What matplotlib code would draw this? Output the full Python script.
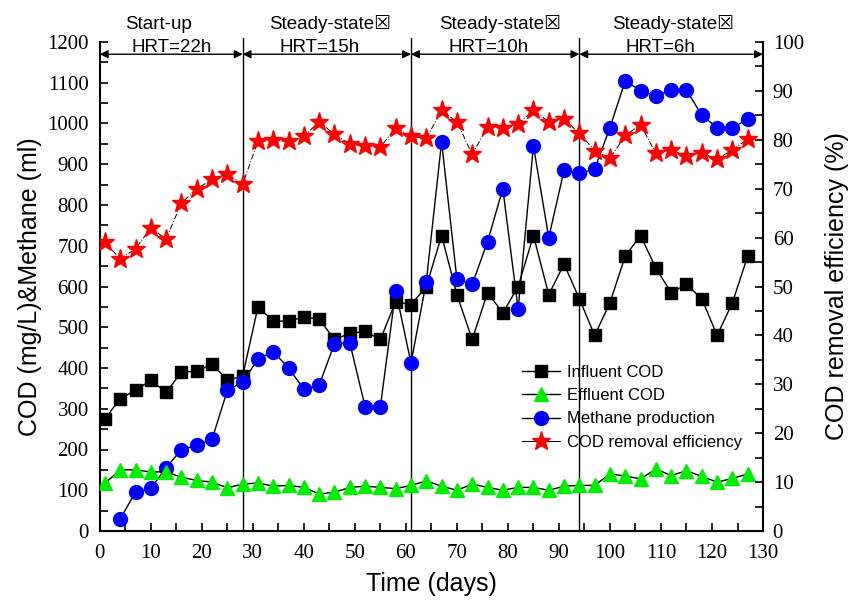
import matplotlib
matplotlib.use("Agg")
import matplotlib.pyplot as plt
from matplotlib.ticker import MultipleLocator

days = [1, 4, 7, 10, 13, 16, 19, 22, 25, 28, 31, 34, 37, 40, 43, 46, 49, 52, 55, 58,
        61, 64, 67, 70, 73, 76, 79, 82, 85, 88, 91, 94, 97, 100, 103, 106, 109, 112,
        115, 118, 121, 124, 127]

influent_cod = [275, 325, 345, 370, 340, 390, 392, 410, 370, 380, 550, 515, 515, 525,
                520, 470, 485, 490, 470, 563, 555, 600, 725, 580, 470, 585, 535, 600,
                725, 580, 655, 570, 480, 560, 675, 725, 645, 585, 605, 570, 480, 560, 675]

effluent_cod = [117, 150, 150, 145, 145, 132, 124, 120, 106, 115, 118, 110, 112, 107,
                91, 95, 107, 110, 107, 104, 112, 123, 110, 100, 115, 107, 100, 107,
                107, 100, 110, 112, 112, 140, 135, 128, 152, 136, 148, 134, 120, 129, 140]

methane_days = days[1:]
methane = [30, 95, 105, 155, 200, 210, 225, 345, 365, 422, 440, 400, 348, 358, 460,
           462, 305, 305, 590, 412, 612, 955, 618, 605, 710, 840, 545, 945, 720, 885,
           878, 888, 990, 1105, 1080, 1068, 1082, 1082, 1020, 990, 990, 1010]

removal_eff = [59.0, 55.7, 57.7, 62.0, 59.7, 67.1, 69.9, 72.0, 73.0, 70.9, 79.7, 79.9,
               79.7, 80.7, 83.7, 81.1, 79.1, 78.7, 78.5, 82.5, 80.7, 80.3, 86.0, 83.7,
               77.0, 82.7, 82.5, 83.3, 86.0, 83.7, 84.3, 81.3, 77.8, 76.2, 80.9, 83.1,
               77.2, 78.0, 76.6, 77.4, 76.0, 78.0, 80.1]

phase_bounds = [0, 28, 61, 94, 130]
phase_names = ["Start-up", "Steady-state\u2612", "Steady-state\u2612", "Steady-state\u2612"]
phase_hrt = ["HRT=22h", "HRT=15h", "HRT=10h", "HRT=6h"]
phase_name_x = [11.5, 45.1, 78.4, 112.3]
phase_hrt_x = [14.0, 43.0, 76.3, 109.9]

serif = "Liberation Serif"
sans = "Liberation Sans"

fig = plt.figure(figsize=(8.53, 6.0), dpi=100)
ax1 = fig.add_axes([0.117, 0.115, 0.7775, 0.815])
ax2 = ax1.twinx()

l1, = ax1.plot(days, influent_cod, color="black", lw=1, marker="s", ms=9,
               mfc="black", mec="black", zorder=3, label="Influent COD")
l3, = ax1.plot(methane_days, methane, color="black", lw=1, marker="o", ms=10,
               mfc="#0000ff", mec="#0000ff", zorder=4, label="Methane production")
l2, = ax1.plot(days, effluent_cod, color="black", lw=1, marker="^", ms=10,
               mfc="#00ee00", mec="#00ee00", zorder=5, label="Effluent COD")
l4, = ax2.plot(days, removal_eff, color="black", lw=0.7, ls=(0, (6, 2, 1, 2)),
               marker="*", ms=14, mfc="red", mec="red", zorder=3,
               label="COD removal efficiency")

ax1.set_xlim(0, 130)
ax1.set_ylim(0, 1200)
ax2.set_ylim(0, 100)

ax1.xaxis.set_major_locator(MultipleLocator(10))
ax1.xaxis.set_minor_locator(MultipleLocator(5))
ax1.yaxis.set_major_locator(MultipleLocator(100))
ax1.yaxis.set_minor_locator(MultipleLocator(50))
ax2.yaxis.set_major_locator(MultipleLocator(10))
ax2.yaxis.set_minor_locator(MultipleLocator(5))

for ax in (ax1, ax2):
    ax.spines["top"].set_visible(False)
    ax.tick_params(which="both", direction="in", length=6, width=1.2,
                   labelsize=15)
ax1.spines["right"].set_visible(False)
ax2.spines["left"].set_visible(False)
for sp in ("left", "bottom"):
    ax1.spines[sp].set_linewidth(1.5)
ax2.spines["right"].set_linewidth(1.5)
ax1.tick_params(axis="y", which="both", right=False, pad=8)
ax2.tick_params(axis="y", which="both", pad=7)
ax1.tick_params(axis="x", which="both", top=False, pad=9)

for lab in ax1.get_xticklabels() + ax1.get_yticklabels() + ax2.get_yticklabels():
    lab.set_fontfamily(serif)

ax1.set_xlabel("Time (days)", fontsize=18, fontfamily=sans, labelpad=7)
ax1.set_ylabel("COD (mg/L)&Methane (ml)", fontsize=18, fontfamily=sans, labelpad=4)
ax2.set_ylabel("COD removal efficiency (%)", fontsize=18, fontfamily=sans, labelpad=15)

# phase separators
for b in phase_bounds[1:-1]:
    ax1.plot([b, b], [0, 1210], color="black", lw=1, clip_on=False, zorder=2)

# arrows and header text
for i in range(4):
    ax1.annotate("", xy=(phase_bounds[i], 1170), xytext=(phase_bounds[i + 1], 1170),
                 arrowprops=dict(arrowstyle="<|-|>", color="black", lw=1,
                                 shrinkA=0, shrinkB=0, mutation_scale=12),
                 annotation_clip=False)
    ax1.text(phase_name_x[i], 1233, phase_names[i], ha="center", va="baseline",
             fontsize=13.5, family=["Liberation Sans", "DejaVu Sans"], clip_on=False)
    ax1.text(phase_hrt_x[i], 1176, phase_hrt[i], ha="center", va="baseline",
             fontsize=13.5, family=sans, clip_on=False)

leg = ax2.legend(handles=[l1, l2, l3, l4], loc="upper left",
                 bbox_to_anchor=(0.612, 0.392), bbox_transform=fig.transFigure,
                 frameon=False, prop={"family": sans, "size": 12},
                 handlelength=2.3, handletextpad=0.4, labelspacing=0.5,
                 borderpad=0, borderaxespad=0)
for h in leg.legend_handles:
    h.set_linestyle("-")
    h.set_color("black")

fig.savefig("out.png", dpi=100)
